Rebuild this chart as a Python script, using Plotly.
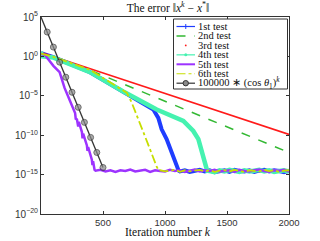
import plotly.graph_objects as go

# ---------------- data (log10 of the error) ----------------
k_test1 = [0, 100, 395, 663, 798, 906, 946, 973, 1013, 1060, 1094, 1110]
log_test1 = [0.4, -0.1, -2.0, -4.5, -5.7, -6.75, -7.8, -9.25, -10.5, -12.6, -14.0, -14.5]
k_test1_floor = list(range(1120, 2001, 40))
log_test1_floor = [-14.6, -14.45, -14.65, -14.5, -14.4, -14.6, -14.45, -14.7, -14.55, -14.45,
                   -14.65, -14.4, -14.55, -14.6, -14.45, -14.65, -14.5, -14.4, -14.6, -14.45,
                   -14.55, -14.7, -14.5]

k_test2 = [0, 100, 395, 798, 1739, 2000]
log_test2 = [0.4, -0.05, -1.75, -4.4, -10.5, -12.2]

k_test3 = [0, 2000]
log_test3 = [0.5, -9.9]

k_test4 = [0, 8, 100, 395, 663, 933, 1148, 1228, 1269, 1310, 1340]
log_test4 = [0.6, 0.0, -0.15, -2.0, -4.46, -6.75, -8.2, -9.46, -10.5, -12.8, -14.5]
k_test4_floor = list(range(1360, 2001, 40))
log_test4_floor = [-14.55, -14.7, -14.45, -14.6, -14.4, -14.55, -14.65, -14.45, -14.6, -14.5,
                   -14.4, -14.6, -14.45, -14.65, -14.5, -14.45, -14.6]

k_test5 = [0, 30, 60, 100, 150, 170, 190, 230, 260, 275, 280, 290, 300, 305, 330,
           335, 340, 370, 375, 380, 410, 415, 420, 432]
log_test5 = [0.3, 0.2, -0.4, -1.2, -2.0, -3.0, -4.0, -5.5, -6.8, -7.2, -7.9, -8.0,
             -8.9, -8.3, -9.6, -10.4, -9.8, -11.3, -12.0, -11.5, -13.1, -13.8, -13.3, -14.4]
k_test5_floor = list(range(440, 2001, 40))
log_test5_floor = [-14.5, -14.4, -14.6, -14.45, -14.65, -14.45, -14.55, -14.35, -14.6, -14.5,
                   -14.4, -14.65, -14.45, -14.55, -14.6, -14.4, -14.55, -14.45, -14.65, -14.5,
                   -14.35, -14.6, -14.45, -14.55, -14.4, -14.6, -14.5, -14.45, -14.65, -14.4,
                   -14.55, -14.6, -14.45, -14.35, -14.55, -14.65, -14.45, -14.5, -14.4, -14.6]

k_test6 = [0, 100, 395, 691, 730, 798, 860, 933, 950]
log_test6 = [0.35, -0.05, -1.7, -4.6, -5.8, -8.4, -11.0, -14.0, -14.5]
k_test6_floor = list(range(960, 2001, 40))
log_test6_floor = [-14.45, -14.6, -14.5, -14.4, -14.65, -14.45, -14.6, -14.5, -14.4, -14.6,
                   -14.45, -14.65, -14.5, -14.45, -14.6, -14.4, -14.55, -14.65, -14.45, -14.5,
                   -14.6, -14.4, -14.55, -14.45, -14.65, -14.5, -14.45]

k_bound = [0, 50, 100, 150, 200, 250, 300, 350, 400, 450, 500]
log_bound = [5.0, 3.09, 1.18, -0.73, -2.64, -4.55, -6.46, -8.37, -10.28, -12.19, -14.1]

x_tick_vals = [500, 1000, 1500, 2000]
x_tick_text = ["500", "1000", "1500", "2000"]
y_tick_exps = [5, 0, -5, -10, -15, -20]
y_tick_text = ["10<sup>5</sup>", "10<sup>0</sup>", "10<sup>\u22125</sup>",
               "10<sup>\u221210</sup>", "10<sup>\u221215</sup>", "10<sup>\u221220</sup>"]

legend_names = ["1st test", "2nd test", "3rd test", "4th test", "5th test", "6th test",
                "100000 \u2217 (cos <i>\u03b8</i><sub>1</sub>)<sup><i>k</i></sup>"]

# ---------------- styles ----------------
C_BLUE = "#1f3dff"
C_GREEN = "#33b833"
C_RED = "#ff1a1a"
C_AQUA = "#45f2b0"
C_PURPLE = "#9d33ff"
C_YELLOW = "#c6de00"
C_GRAY = "#333333"
SERIF = "Liberation Serif"
SANS = "Liberation Sans"

W, H = 320, 241
ML, MR, MT, MB = 41, 31, 17, 27
PW, PH = W - ML - MR, H - MT - MB


def px(x):
    return (x - ML) / PW


def py(y):
    return (H - MB - y) / PH


def pw(v):
    return [10 ** e for e in v]


fig = go.Figure()


def add_line(k, v, color, width, dash="solid"):
    fig.add_trace(go.Scatter(x=k, y=pw(v), mode="lines", showlegend=False,
                             line=dict(color=color, width=width, dash=dash),
                             hoverinfo="skip"))


add_line(k_test1 + k_test1_floor, log_test1 + log_test1_floor, C_BLUE, 4)
add_line(k_test2, log_test2, C_GREEN, 1.5, "dash")
add_line(k_test3, log_test3, C_RED, 1.6)
add_line(k_test4 + k_test4_floor, log_test4 + log_test4_floor, C_AQUA, 4.5)
add_line(k_test5 + k_test5_floor, log_test5 + log_test5_floor, C_PURPLE, 2.5)
add_line(k_test6 + k_test6_floor, log_test6 + log_test6_floor, C_YELLOW, 1.8, "dashdot")

fig.add_trace(go.Scatter(
    x=k_bound, y=pw(log_bound), mode="lines+markers", showlegend=False,
    line=dict(color=C_GRAY, width=1.3),
    marker=dict(symbol="circle", size=[0] + [6] * (len(k_bound) - 1),
                color="#8a8a8a", line=dict(color=C_GRAY, width=1)),
    hoverinfo="skip"))

# ---------------- custom compact legend ----------------
shapes = []
annotations = []
LX0, LX1, LY0, LY1 = 173.5, 287.5, 19, 89
shapes.append(dict(type="rect", xref="paper", yref="paper",
                   x0=px(LX0), x1=px(LX1), y0=py(LY1), y1=py(LY0),
                   line=dict(color="#333", width=1), fillcolor="white", layer="above"))
row_h = 9.45
sx0, sx1 = 176.5, 195
scx = (sx0 + sx1) / 2
styles = [
    dict(color=C_BLUE, width=1.2, dash="solid", marker="plus"),
    dict(color=C_GREEN, width=1.5, dash="dash", marker=None),
    dict(color=C_RED, width=0, dash="solid", marker="dot"),
    dict(color=C_AQUA, width=1.2, dash="solid", marker="smalldot"),
    dict(color=C_PURPLE, width=2, dash="solid", marker=None),
    dict(color=C_YELLOW, width=1.2, dash="dashdot", marker=None),
    dict(color=C_GRAY, width=1.2, dash="solid", marker="circle"),
]
for i, (name, st) in enumerate(zip(legend_names, styles)):
    yy = 26.5 + i * row_h
    if st["width"] > 0:
        shapes.append(dict(type="line", xref="paper", yref="paper", layer="above",
                           x0=px(sx0), x1=px(sx1), y0=py(yy), y1=py(yy),
                           line=dict(color=st["color"], width=st["width"], dash=st["dash"])))
    m = st["marker"]
    if m == "plus":
        shapes.append(dict(type="line", xref="paper", yref="paper", layer="above",
                           x0=px(scx), x1=px(scx), y0=py(yy - 2.5), y1=py(yy + 2.5),
                           line=dict(color=st["color"], width=1)))
    elif m in ("dot", "smalldot", "circle"):
        r = {"dot": 0.9, "smalldot": 1.5, "circle": 2.7}[m]
        shapes.append(dict(type="circle", xref="paper", yref="paper", layer="above",
                           xsizemode="pixel", ysizemode="pixel",
                           xanchor=px(scx), yanchor=py(yy),
                           x0=-r, x1=r, y0=-r, y1=r,
                           fillcolor="#8a8a8a" if m == "circle" else st["color"],
                           line=dict(color=st["color"], width=1 if m == "circle" else 0)))
    annotations.append(dict(text=name, xref="paper", yref="paper", x=px(196), y=py(yy),
                            xanchor="left", yanchor="middle", showarrow=False,
                            font=dict(family=SERIF, size=10.5, color="#111")))

# x-axis title
annotations.append(dict(text="Iteration number <i>k</i>", xref="paper", yref="paper",
                        x=px(168), y=py(232), xanchor="center", yanchor="middle",
                        showarrow=False,
                        font=dict(family=SERIF, size=11.5, color="#111")))

fig.update_layout(
    width=W, height=H, autosize=False,
    margin=dict(l=ML, r=MR, t=MT, b=MB, pad=0),
    paper_bgcolor="white", plot_bgcolor="white",
    title=dict(text="The error \u2016<i>x</i><sup><i>k</i></sup> \u2212 <i>x</i><sup>*</sup>\u2016",
               x=px(168), xanchor="center", xref="paper",
               y=1 - 7.5 / H, yref="container", yanchor="middle",
               font=dict(family=SERIF, size=11.5, color="#111")),
    shapes=shapes, annotations=annotations,
    xaxis=dict(range=[0, 2000], tickvals=x_tick_vals, ticktext=x_tick_text,
               ticks="inside", ticklen=3, tickcolor="#333", mirror="ticks",
               showline=True, linecolor="#333", linewidth=1, showgrid=False, zeroline=False,
               tickfont=dict(family=SANS, size=9.5, color="#333"),
               automargin=False),
    yaxis=dict(type="log", range=[-20, 5], tickvals=[10 ** e for e in y_tick_exps],
               ticktext=y_tick_text, ticks="inside", ticklen=3, tickcolor="#333",
               mirror="ticks", showline=True, linecolor="#333", linewidth=1,
               showgrid=False, zeroline=False,
               tickfont=dict(family=SANS, size=10, color="#333"),
               automargin=False),
)

fig.write_html("out.html", config={"displayModeBar": False},
               post_script="document.body.style.margin='0';document.body.style.overflow='hidden';")
